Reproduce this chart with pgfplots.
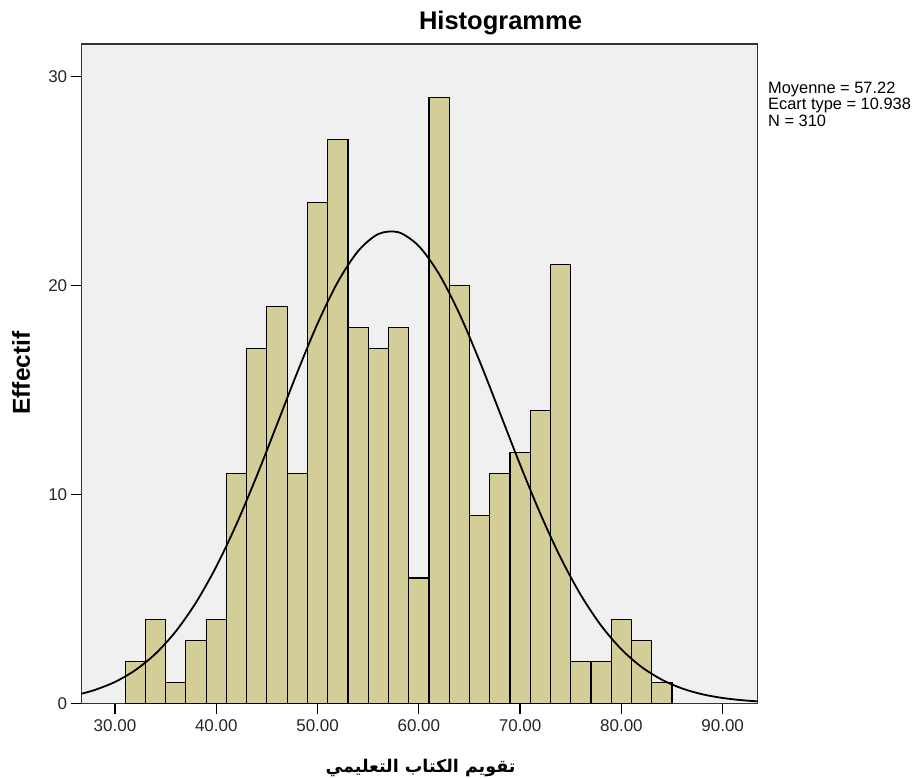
\documentclass[border=0pt]{standalone}
\usepackage{fontspec}
\setmainfont{Liberation Sans}
\newfontfamily\arabicfont[Script=Arabic]{DejaVu Sans}
\TeXXeTstate=1
\usepackage{pgfplots}
\pgfplotsset{compat=1.18}
\definecolor{barfill}{HTML}{D3CE97}
\definecolor{bgfill}{HTML}{F0F0F0}
\begin{document}
\begin{tikzpicture}[x=1pt,y=1pt]
\path[use as bounding box] (0,0) rectangle (924,779);
\begin{axis}[
  at={(81.7pt,75.7pt)}, anchor=south west,
  scale only axis, width=675.6pt, height=659.3pt,
  xmin=26.71, xmax=93.42, ymin=0, ymax=31.57,
  axis background/.style={fill=bgfill},
  axis line style={line width=1.5pt, draw=black!80},
  tick pos=left, tick align=outside, major tick length=11pt,
  tick style={line width=1.3pt, black},
  xtick={30,40,50,60,70,80,90}, ytick={0,10,20,30},
  x tick label style={/pgf/number format/fixed, /pgf/number format/fixed zerofill, /pgf/number format/precision=2},
  /pgf/number format/assume math mode=true,
  tick label style={font=\fontsize{17}{20}\selectfont, text=black!85},
  xticklabel shift=2pt, yticklabel shift=0pt,
  clip=true,
]
\addplot[ybar interval, fill=barfill, draw=black, line width=1.1pt] coordinates {
(31,2) (33,4) (35,1) (37,3) (39,4) (41,11) (43,17) (45,19) (47,11) (49,24)
(51,27) (53,18) (55,17) (57,18) (59,6) (61,29) (63,20) (65,9) (67,11) (69,12)
(71,14) (73,21) (75,2) (77,2) (79,4) (81,3) (83,1) (85,1)
};
\addplot[smooth, line width=1.8pt, black] coordinates {
(26.71,0.462) (28,0.638) (30,1.023) (32,1.585) (34,2.374) (36,3.444) (38,4.829)
(40,6.547) (42,8.587) (44,10.892) (46,13.361) (48,15.849) (50,18.184) (52,20.176)
(54,21.651) (56,22.470) (58,22.553) (60,21.891) (62,20.551) (64,18.658)
(66,16.383) (68,13.912) (70,11.425) (72,9.074) (74,6.970) (76,5.178) (78,3.720)
(80,2.584) (82,1.737) (84,1.129) (86,0.710) (88,0.431) (90,0.254) (92,0.144) (93.42,0.095)
};
\end{axis}
\node[anchor=base, font=\fontsize{25.5}{28}\selectfont\bfseries] at (500.5,749) {Histogramme};
\node[rotate=90, font=\fontsize{24.5}{28}\selectfont\bfseries] at (21,406) {Effectif};
\node[anchor=base west, align=left, inner sep=0pt, font=\fontsize{16.4}{16.7}\selectfont] at (768,652.3) {Moyenne = 57.22\\Ecart type = 10.938\\N = 310};
\node[anchor=base, inner sep=0pt, font=\fontsize{17.5}{20}\selectfont] at (420.5,6) {\arabicfont\bfseries\beginR تقويم الكتاب التعليمي\endR};
\end{tikzpicture}
\end{document}
